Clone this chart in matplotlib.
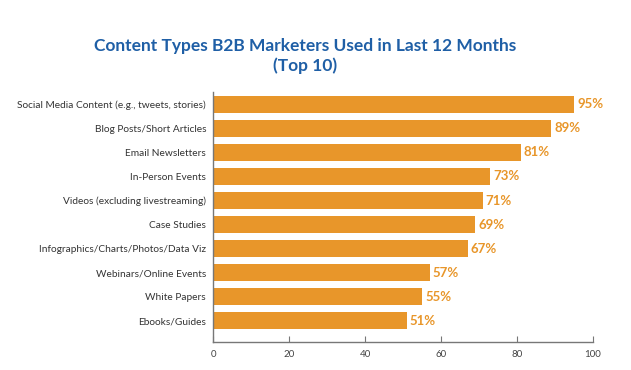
import matplotlib
matplotlib.use("Agg")
import matplotlib.pyplot as plt

categories = [
    "Social Media Content (e.g., tweets, stories)",
    "Blog Posts/Short Articles",
    "Email Newsletters",
    "In-Person Events",
    "Videos (excluding livestreaming)",
    "Case Studies",
    "Infographics/Charts/Photos/Data Viz",
    "Webinars/Online Events",
    "White Papers",
    "Ebooks/Guides",
]
values = [95, 89, 81, 73, 71, 69, 67, 57, 55, 51]
xticks = [0, 20, 40, 60, 80, 100]

title = "Content Types B2B Marketers Used in Last 12 Months\n(Top 10)"

orange = "#E8962A"
blue = "#1F5FA6"
font = ["Lato", "DejaVu Sans"]

fig = plt.figure(figsize=(6.31, 3.70), dpi=100)
ax = fig.add_axes([0.3376, 0.0757, 0.6022, 0.675])

ypos = list(range(len(categories)))[::-1]
ax.barh(ypos, values, height=0.72, color=orange, zorder=2)
for y, v in zip(ypos, values):
    ax.text(v + 0.8, y, f"{v}%", va="center", ha="left", color=orange,
            fontsize=9.5, fontweight="bold", family=font)

ax.set_yticks(ypos)
ax.set_yticklabels(categories, fontsize=7.3, color="#333333", family=font)
ax.set_xticks(xticks)
ax.set_xticklabels([str(t) for t in xticks], fontsize=7, color="#444444", family=font)
ax.set_xlim(0, 100)
ax.set_ylim(-0.88, 9.5)

for s in ["top", "right"]:
    ax.spines[s].set_visible(False)
for s in ["left", "bottom"]:
    ax.spines[s].set_color("#777777")
    ax.spines[s].set_linewidth(1.0)
ax.tick_params(axis="y", length=0, pad=5)
ax.tick_params(axis="x", direction="in", length=4, color="#777777", pad=6)

fig.text(0.483, 0.849, title, ha="center", va="center", fontsize=12.5,
         fontweight="bold", color=blue, family=font, linespacing=1.2)

fig.savefig("out.png", dpi=100, facecolor="white")
